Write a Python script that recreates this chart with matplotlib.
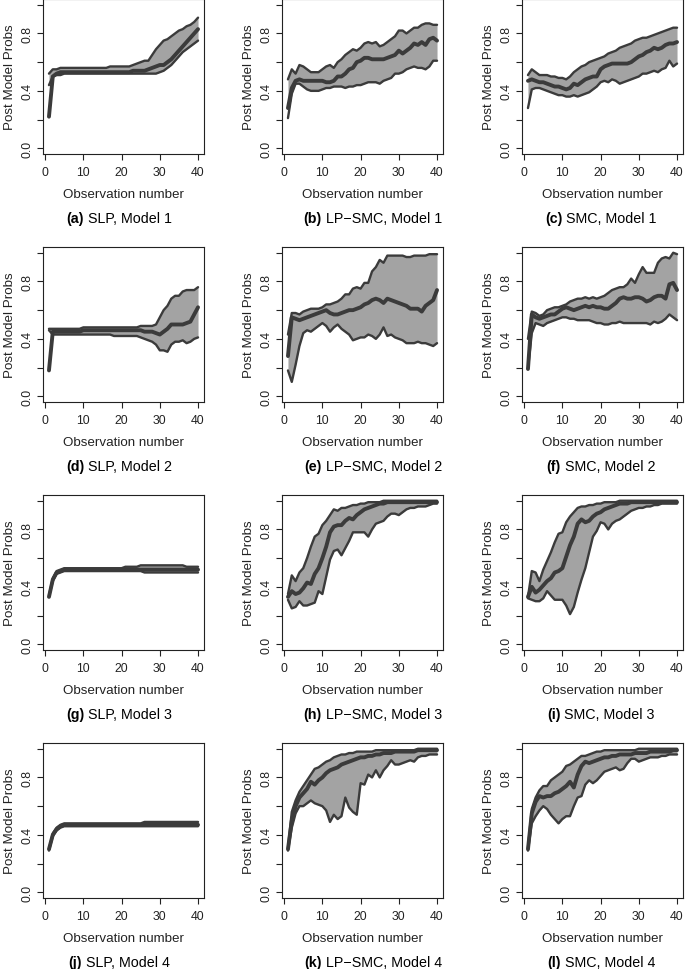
import numpy as np
import matplotlib
matplotlib.use("Agg")
import matplotlib.pyplot as plt

plt.rcParams['font.family'] = ['Liberation Sans', 'DejaVu Sans']

obs = list(range(1, 41))

# (a) SLP, Model 1
slp1_lo = [0.44, 0.50, 0.51, 0.51, 0.52, 0.52, 0.52, 0.52, 0.52, 0.52,
           0.52, 0.52, 0.52, 0.52, 0.52, 0.52, 0.52, 0.52, 0.52, 0.52,
           0.52, 0.52, 0.52, 0.52, 0.52, 0.52, 0.52, 0.52, 0.52, 0.53,
           0.54, 0.56, 0.58, 0.61, 0.64, 0.67, 0.69, 0.71, 0.73, 0.75]
slp1_med = [0.22, 0.50, 0.52, 0.53, 0.53, 0.53, 0.53, 0.53, 0.53, 0.53,
            0.53, 0.53, 0.53, 0.53, 0.53, 0.53, 0.53, 0.53, 0.53, 0.53,
            0.53, 0.53, 0.54, 0.54, 0.54, 0.54, 0.55, 0.56, 0.57, 0.58,
            0.58, 0.60, 0.62, 0.65, 0.68, 0.71, 0.74, 0.77, 0.80, 0.83]
slp1_hi = [0.52, 0.55, 0.55, 0.56, 0.56, 0.56, 0.56, 0.56, 0.56, 0.56,
           0.56, 0.56, 0.56, 0.56, 0.56, 0.56, 0.57, 0.57, 0.57, 0.57,
           0.57, 0.57, 0.58, 0.59, 0.60, 0.61, 0.61, 0.65, 0.69, 0.72,
           0.75, 0.76, 0.78, 0.80, 0.82, 0.83, 0.85, 0.86, 0.88, 0.91]

# (b) LP-SMC, Model 1
lp1_lo = [0.21, 0.38, 0.45, 0.45, 0.43, 0.41, 0.40, 0.40, 0.40, 0.41,
          0.42, 0.42, 0.43, 0.43, 0.43, 0.42, 0.43, 0.43, 0.44, 0.44,
          0.45, 0.46, 0.46, 0.46, 0.45, 0.47, 0.48, 0.49, 0.52, 0.52,
          0.53, 0.55, 0.56, 0.57, 0.56, 0.56, 0.55, 0.57, 0.61, 0.61]
lp1_med = [0.28, 0.42, 0.47, 0.48, 0.47, 0.47, 0.47, 0.47, 0.47, 0.47,
           0.46, 0.46, 0.47, 0.50, 0.50, 0.52, 0.55, 0.56, 0.60, 0.61,
           0.63, 0.63, 0.62, 0.62, 0.62, 0.62, 0.63, 0.64, 0.65, 0.68,
           0.66, 0.68, 0.70, 0.73, 0.72, 0.74, 0.72, 0.76, 0.77, 0.75]
lp1_hi = [0.48, 0.55, 0.52, 0.58, 0.57, 0.55, 0.53, 0.53, 0.53, 0.55,
          0.57, 0.58, 0.56, 0.60, 0.62, 0.65, 0.67, 0.69, 0.68, 0.70,
          0.73, 0.74, 0.73, 0.74, 0.71, 0.72, 0.74, 0.76, 0.78, 0.82,
          0.82, 0.80, 0.82, 0.84, 0.84, 0.86, 0.87, 0.87, 0.86, 0.86]

# (c) SMC, Model 1
smc1_lo = [0.28, 0.41, 0.42, 0.42, 0.41, 0.40, 0.39, 0.38, 0.37, 0.37,
           0.36, 0.36, 0.37, 0.36, 0.37, 0.38, 0.39, 0.41, 0.43, 0.46,
           0.47, 0.46, 0.48, 0.47, 0.45, 0.46, 0.47, 0.48, 0.49, 0.50,
           0.52, 0.52, 0.53, 0.54, 0.53, 0.55, 0.56, 0.61, 0.57, 0.59]
smc1_med = [0.47, 0.48, 0.47, 0.46, 0.46, 0.45, 0.44, 0.43, 0.43, 0.42,
            0.41, 0.42, 0.45, 0.44, 0.46, 0.48, 0.49, 0.50, 0.50, 0.55,
            0.57, 0.58, 0.59, 0.59, 0.59, 0.59, 0.59, 0.60, 0.62, 0.64,
            0.65, 0.67, 0.68, 0.70, 0.69, 0.70, 0.72, 0.73, 0.73, 0.74]
smc1_hi = [0.51, 0.55, 0.53, 0.51, 0.51, 0.51, 0.50, 0.50, 0.49, 0.49,
           0.48, 0.50, 0.53, 0.55, 0.57, 0.58, 0.60, 0.61, 0.62, 0.63,
           0.64, 0.66, 0.67, 0.68, 0.70, 0.71, 0.72, 0.73, 0.75, 0.76,
           0.77, 0.77, 0.78, 0.79, 0.80, 0.81, 0.82, 0.83, 0.84, 0.84]

# (d) SLP, Model 2
slp2_lo = [0.46, 0.43, 0.43, 0.43, 0.43, 0.43, 0.43, 0.43, 0.43, 0.43,
           0.43, 0.43, 0.43, 0.43, 0.43, 0.43, 0.43, 0.42, 0.42, 0.42,
           0.42, 0.42, 0.42, 0.42, 0.41, 0.40, 0.39, 0.38, 0.36, 0.32,
           0.32, 0.31, 0.36, 0.38, 0.38, 0.39, 0.37, 0.38, 0.40, 0.41]
slp2_med = [0.18, 0.45, 0.45, 0.45, 0.45, 0.45, 0.45, 0.45, 0.45, 0.46,
            0.46, 0.46, 0.46, 0.46, 0.46, 0.46, 0.46, 0.46, 0.46, 0.46,
            0.46, 0.46, 0.46, 0.46, 0.46, 0.45, 0.45, 0.45, 0.44, 0.43,
            0.45, 0.47, 0.50, 0.50, 0.50, 0.50, 0.51, 0.52, 0.57, 0.62]
slp2_hi = [0.47, 0.47, 0.47, 0.47, 0.47, 0.47, 0.47, 0.47, 0.47, 0.48,
           0.48, 0.48, 0.48, 0.48, 0.48, 0.48, 0.48, 0.48, 0.48, 0.48,
           0.48, 0.48, 0.48, 0.48, 0.49, 0.49, 0.49, 0.49, 0.50, 0.55,
           0.60, 0.63, 0.68, 0.70, 0.70, 0.73, 0.74, 0.74, 0.74, 0.76]

# (e) LP-SMC, Model 2
lp2_lo = [0.18, 0.10, 0.22, 0.35, 0.44, 0.46, 0.45, 0.47, 0.49, 0.51,
          0.49, 0.45, 0.48, 0.50, 0.47, 0.45, 0.43, 0.39, 0.40, 0.41,
          0.41, 0.43, 0.42, 0.40, 0.43, 0.48, 0.42, 0.43, 0.41, 0.40,
          0.39, 0.37, 0.37, 0.37, 0.38, 0.37, 0.37, 0.36, 0.35, 0.37]
lp2_med = [0.28, 0.55, 0.54, 0.53, 0.54, 0.55, 0.56, 0.57, 0.58, 0.59,
           0.60, 0.58, 0.57, 0.57, 0.58, 0.59, 0.60, 0.60, 0.61, 0.62,
           0.64, 0.65, 0.67, 0.68, 0.67, 0.65, 0.68, 0.67, 0.66, 0.65,
           0.64, 0.63, 0.61, 0.61, 0.61, 0.59, 0.63, 0.65, 0.67, 0.74]
lp2_hi = [0.43, 0.58, 0.58, 0.57, 0.59, 0.60, 0.61, 0.61, 0.61, 0.62,
          0.64, 0.64, 0.65, 0.66, 0.68, 0.71, 0.71, 0.75, 0.76, 0.75,
          0.79, 0.79, 0.87, 0.90, 0.95, 0.93, 0.98, 0.98, 0.98, 0.98,
          0.98, 0.97, 0.97, 0.98, 0.98, 0.98, 0.98, 0.99, 0.99, 0.99]

# (f) SMC, Model 2
smc2_lo = [0.19, 0.44, 0.51, 0.50, 0.49, 0.51, 0.52, 0.53, 0.54, 0.55,
           0.55, 0.54, 0.54, 0.53, 0.53, 0.53, 0.53, 0.52, 0.51, 0.51,
           0.50, 0.50, 0.51, 0.51, 0.52, 0.51, 0.51, 0.51, 0.51, 0.51,
           0.51, 0.51, 0.50, 0.52, 0.51, 0.52, 0.54, 0.57, 0.55, 0.53]
smc2_med = [0.19, 0.57, 0.55, 0.54, 0.55, 0.56, 0.57, 0.57, 0.59, 0.61,
            0.62, 0.61, 0.60, 0.61, 0.62, 0.63, 0.62, 0.63, 0.62, 0.62,
            0.61, 0.61, 0.63, 0.65, 0.68, 0.69, 0.68, 0.68, 0.69, 0.69,
            0.68, 0.66, 0.67, 0.69, 0.70, 0.70, 0.68, 0.78, 0.79, 0.74]
smc2_hi = [0.40, 0.59, 0.58, 0.56, 0.57, 0.60, 0.61, 0.62, 0.62, 0.63,
           0.64, 0.66, 0.67, 0.68, 0.68, 0.69, 0.68, 0.69, 0.68, 0.69,
           0.70, 0.72, 0.74, 0.75, 0.76, 0.76, 0.78, 0.82, 0.79, 0.85,
           0.90, 0.86, 0.86, 0.86, 0.93, 0.96, 0.97, 0.96, 1.00, 0.99]

# (g) SLP, Model 3
slp3_lo = [0.33, 0.44, 0.49, 0.50, 0.51, 0.51, 0.51, 0.51, 0.51, 0.51,
           0.51, 0.51, 0.51, 0.51, 0.51, 0.51, 0.51, 0.51, 0.51, 0.51,
           0.51, 0.51, 0.51, 0.51, 0.51, 0.50, 0.50, 0.50, 0.50, 0.50,
           0.50, 0.50, 0.50, 0.50, 0.50, 0.50, 0.50, 0.50, 0.50, 0.50]
slp3_med = [0.33, 0.45, 0.50, 0.51, 0.52, 0.52, 0.52, 0.52, 0.52, 0.52,
            0.52, 0.52, 0.52, 0.52, 0.52, 0.52, 0.52, 0.52, 0.52, 0.52,
            0.52, 0.52, 0.52, 0.52, 0.52, 0.52, 0.52, 0.52, 0.52, 0.52,
            0.52, 0.52, 0.52, 0.52, 0.52, 0.52, 0.52, 0.52, 0.52, 0.52]
slp3_hi = [0.34, 0.46, 0.51, 0.52, 0.53, 0.53, 0.53, 0.53, 0.53, 0.53,
           0.53, 0.53, 0.53, 0.53, 0.53, 0.53, 0.53, 0.53, 0.53, 0.53,
           0.54, 0.54, 0.54, 0.54, 0.55, 0.55, 0.55, 0.55, 0.55, 0.55,
           0.55, 0.55, 0.55, 0.55, 0.55, 0.55, 0.54, 0.54, 0.54, 0.54]

# (h) LP-SMC, Model 3
lp3_lo = [0.31, 0.25, 0.26, 0.30, 0.27, 0.27, 0.28, 0.29, 0.37, 0.35,
          0.47, 0.59, 0.65, 0.66, 0.62, 0.67, 0.72, 0.78, 0.78, 0.78,
          0.78, 0.75, 0.80, 0.84, 0.85, 0.86, 0.89, 0.91, 0.91, 0.90,
          0.92, 0.94, 0.95, 0.95, 0.96, 0.96, 0.96, 0.97, 0.98, 0.98]
lp3_med = [0.33, 0.37, 0.35, 0.36, 0.39, 0.43, 0.42, 0.49, 0.53, 0.60,
           0.68, 0.78, 0.82, 0.83, 0.83, 0.86, 0.88, 0.87, 0.90, 0.92,
           0.94, 0.95, 0.96, 0.97, 0.98, 0.98, 0.99, 0.99, 0.99, 0.99,
           0.99, 0.99, 0.99, 0.99, 0.99, 0.99, 0.99, 0.99, 0.99, 0.99]
lp3_hi = [0.35, 0.48, 0.44, 0.50, 0.53, 0.60, 0.68, 0.75, 0.77, 0.83,
          0.86, 0.90, 0.94, 0.93, 0.95, 0.95, 0.96, 0.97, 0.97, 0.98,
          0.98, 0.99, 0.99, 0.99, 0.99, 1.00, 1.00, 1.00, 1.00, 1.00,
          1.00, 1.00, 1.00, 1.00, 1.00, 1.00, 1.00, 1.00, 1.00, 1.00]

# (i) SMC, Model 3
smc3_lo = [0.32, 0.31, 0.30, 0.30, 0.32, 0.37, 0.34, 0.31, 0.31, 0.31,
           0.27, 0.21, 0.26, 0.36, 0.45, 0.53, 0.64, 0.75, 0.79, 0.85,
           0.84, 0.80, 0.84, 0.86, 0.87, 0.89, 0.91, 0.93, 0.94, 0.95,
           0.95, 0.96, 0.96, 0.97, 0.97, 0.98, 0.98, 0.98, 0.98, 0.98]
smc3_med = [0.33, 0.40, 0.36, 0.38, 0.41, 0.44, 0.46, 0.50, 0.51, 0.53,
            0.61, 0.69, 0.75, 0.84, 0.87, 0.85, 0.86, 0.89, 0.91, 0.92,
            0.94, 0.95, 0.96, 0.97, 0.98, 0.98, 0.98, 0.99, 0.99, 0.99,
            0.99, 0.99, 0.99, 0.99, 0.99, 0.99, 0.99, 0.99, 0.99, 0.99]
smc3_hi = [0.33, 0.51, 0.50, 0.44, 0.52, 0.58, 0.64, 0.71, 0.77, 0.78,
           0.85, 0.89, 0.92, 0.95, 0.96, 0.96, 0.97, 0.97, 0.98, 0.98,
           0.99, 0.99, 0.99, 0.99, 1.00, 1.00, 1.00, 1.00, 1.00, 1.00,
           1.00, 1.00, 1.00, 1.00, 1.00, 1.00, 1.00, 1.00, 1.00, 1.00]

# (j) SLP, Model 4
slp4_lo = [0.29, 0.39, 0.43, 0.45, 0.46, 0.46, 0.46, 0.46, 0.46, 0.46,
           0.46, 0.46, 0.46, 0.46, 0.46, 0.46, 0.46, 0.46, 0.46, 0.46,
           0.46, 0.46, 0.46, 0.46, 0.46, 0.46, 0.46, 0.46, 0.46, 0.46,
           0.46, 0.46, 0.46, 0.46, 0.46, 0.46, 0.46, 0.46, 0.46, 0.46]
slp4_med = [0.30, 0.40, 0.44, 0.46, 0.47, 0.47, 0.47, 0.47, 0.47, 0.47,
            0.47, 0.47, 0.47, 0.47, 0.47, 0.47, 0.47, 0.47, 0.47, 0.47,
            0.47, 0.47, 0.47, 0.47, 0.47, 0.47, 0.47, 0.47, 0.47, 0.47,
            0.47, 0.47, 0.47, 0.47, 0.47, 0.47, 0.47, 0.47, 0.47, 0.47]
slp4_hi = [0.30, 0.41, 0.45, 0.47, 0.48, 0.48, 0.48, 0.48, 0.48, 0.48,
           0.48, 0.48, 0.48, 0.48, 0.48, 0.48, 0.48, 0.48, 0.48, 0.48,
           0.48, 0.48, 0.48, 0.48, 0.48, 0.49, 0.49, 0.49, 0.49, 0.49,
           0.49, 0.49, 0.49, 0.49, 0.49, 0.49, 0.49, 0.49, 0.49, 0.49]

# (k) LP-SMC, Model 4
lp4_lo = [0.29, 0.45, 0.55, 0.60, 0.60, 0.62, 0.64, 0.62, 0.61, 0.60,
          0.57, 0.49, 0.54, 0.51, 0.53, 0.66, 0.59, 0.56, 0.54, 0.76,
          0.75, 0.82, 0.80, 0.85, 0.80, 0.85, 0.88, 0.92, 0.89, 0.89,
          0.90, 0.91, 0.92, 0.91, 0.94, 0.95, 0.95, 0.96, 0.96, 0.96]
lp4_med = [0.30, 0.50, 0.60, 0.66, 0.69, 0.72, 0.77, 0.75, 0.78, 0.80,
           0.83, 0.85, 0.86, 0.87, 0.89, 0.90, 0.91, 0.92, 0.93, 0.94,
           0.94, 0.95, 0.95, 0.96, 0.96, 0.97, 0.97, 0.97, 0.98, 0.98,
           0.98, 0.98, 0.98, 0.98, 0.99, 0.99, 0.99, 0.99, 0.99, 0.99]
lp4_hi = [0.31, 0.56, 0.64, 0.70, 0.74, 0.78, 0.82, 0.86, 0.87, 0.89,
          0.91, 0.92, 0.94, 0.95, 0.96, 0.96, 0.97, 0.97, 0.98, 0.98,
          0.98, 0.98, 0.98, 0.99, 0.99, 0.99, 0.99, 0.99, 0.99, 0.99,
          0.99, 0.99, 0.99, 0.99, 1.00, 1.00, 1.00, 1.00, 1.00, 1.00]

# (l) SMC, Model 4
smc4_lo = [0.29, 0.48, 0.53, 0.57, 0.60, 0.58, 0.54, 0.51, 0.48, 0.51,
           0.53, 0.53, 0.60, 0.66, 0.67, 0.75, 0.78, 0.76, 0.78, 0.81,
           0.84, 0.85, 0.86, 0.87, 0.85, 0.86, 0.90, 0.93, 0.93, 0.91,
           0.92, 0.93, 0.94, 0.94, 0.94, 0.95, 0.95, 0.96, 0.96, 0.96]
smc4_med = [0.30, 0.55, 0.63, 0.67, 0.66, 0.67, 0.67, 0.69, 0.70, 0.72,
            0.74, 0.77, 0.73, 0.82, 0.88, 0.91, 0.90, 0.91, 0.92, 0.93,
            0.94, 0.94, 0.95, 0.95, 0.96, 0.96, 0.96, 0.96, 0.97, 0.97,
            0.97, 0.97, 0.98, 0.98, 0.98, 0.98, 0.98, 0.98, 0.99, 0.99]
smc4_hi = [0.31, 0.58, 0.66, 0.71, 0.74, 0.74, 0.78, 0.80, 0.82, 0.84,
           0.88, 0.89, 0.91, 0.93, 0.95, 0.95, 0.96, 0.97, 0.98, 0.98,
           0.99, 0.99, 0.99, 0.99, 0.99, 0.99, 0.99, 0.99, 0.99, 1.00,
           1.00, 1.00, 1.00, 1.00, 1.00, 1.00, 1.00, 1.00, 1.00, 1.00]

tags = ['(a)', '(b)', '(c)', '(d)', '(e)', '(f)',
        '(g)', '(h)', '(i)', '(j)', '(k)', '(l)']
methods = ['SLP', 'LP\u2212SMC', 'SMC']
bands = [
    [(slp1_lo, slp1_med, slp1_hi), (lp1_lo, lp1_med, lp1_hi), (smc1_lo, smc1_med, smc1_hi)],
    [(slp2_lo, slp2_med, slp2_hi), (lp2_lo, lp2_med, lp2_hi), (smc2_lo, smc2_med, smc2_hi)],
    [(slp3_lo, slp3_med, slp3_hi), (lp3_lo, lp3_med, lp3_hi), (smc3_lo, smc3_med, smc3_hi)],
    [(slp4_lo, slp4_med, slp4_hi), (lp4_lo, lp4_med, lp4_hi), (smc4_lo, smc4_med, smc4_hi)],
]

W, H = 685, 970
fig = plt.figure(figsize=(W / 100, H / 100), dpi=100)
renderer = fig.canvas.get_renderer()

col_left = [43, 282, 522]
col_cap = [119, 373, 601]
row_top = [0, 248, 496, 744]
aw, ah = 161, 155

fill_col = '#a3a3a3'
line_col = '#3b3b3b'


def caption(xc, yc, tag, rest, size=10.3):
    t1 = fig.text(0, yc, tag, fontsize=size, fontweight='bold', va='center')
    t2 = fig.text(0, yc, '\u00a0' + rest, fontsize=size, va='center')
    w1 = t1.get_window_extent(renderer).width / W
    w2 = t2.get_window_extent(renderer).width / W
    x0 = xc - (w1 + w2) / 2
    t1.set_x(x0)
    t2.set_x(x0 + w1)


for r in range(4):
    for c in range(3):
        lo, med, hi = bands[r][c]
        ax = fig.add_axes([col_left[c] / W, 1 - (row_top[r] + ah) / H, aw / W, ah / H])
        ax.fill_between(obs, lo, hi, color=fill_col, lw=0)
        ax.plot(obs, lo, color=line_col, lw=1.7, solid_capstyle='round')
        ax.plot(obs, hi, color=line_col, lw=1.7, solid_capstyle='round')
        ax.plot(obs, med, color=line_col, lw=2.8, solid_capstyle='round')
        ax.set_xlim(-0.56, 41.56)
        ax.set_ylim(-0.04, 1.04)
        ax.set_xticks([0, 10, 20, 30, 40])
        ax.set_yticks([0.0, 0.2, 0.4, 0.6, 0.8, 1.0])
        ax.set_yticklabels(['0.0', '', '0.4', '', '0.8', ''])
        ax.tick_params(direction='out', length=4.5, width=0.8, labelsize=8.8,
                       colors='#222222', labelcolor='#222222')
        ax.tick_params(axis='x', pad=4.5)
        ax.tick_params(axis='y', pad=2.5, labelrotation=90)
        for lab in ax.get_yticklabels():
            lab.set_va('center')
        for sp in ax.spines.values():
            sp.set_linewidth(0.8)
            sp.set_color('#222222')
        ax.set_xlabel('Observation number', fontsize=9.6, labelpad=7, color='#222222')
        ax.set_ylabel('Post Model Probs', fontsize=9.6, labelpad=4, color='#222222')
        caption(col_cap[c] / W, 1 - (row_top[r] + 219) / H,
                tags[r * 3 + c], '%s, Model %d' % (methods[c], r + 1))

fig.savefig('out.png', dpi=100)
